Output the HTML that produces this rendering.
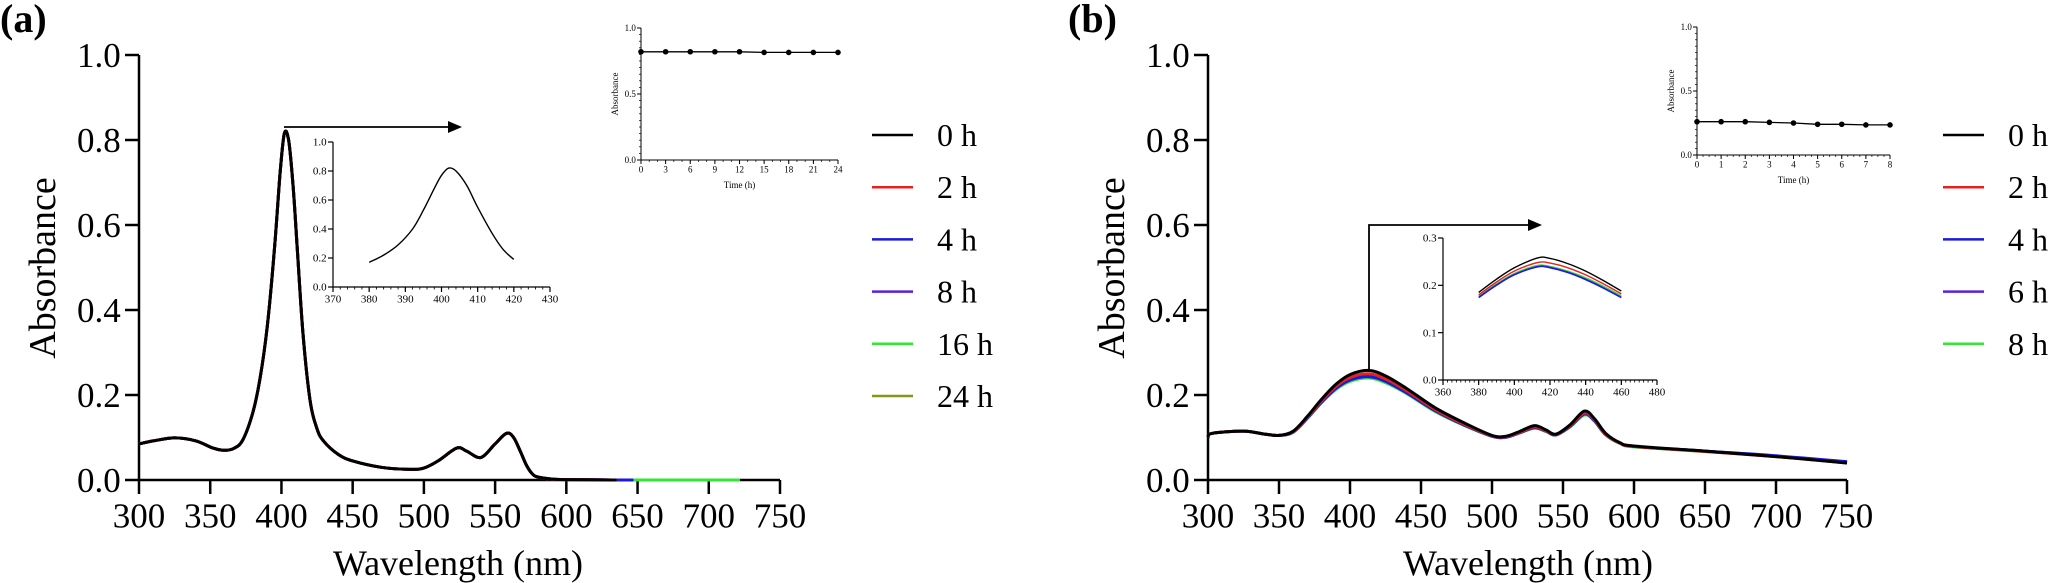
<!DOCTYPE html>
<html><head><meta charset="utf-8"><style>
html,body{margin:0;padding:0;background:#fff}
svg{display:block}
text{font-family:"Liberation Serif","DejaVu Serif",serif;fill:#000}
</style></head><body>
<svg id="fig" width="2048" height="583" viewBox="0 0 2048 583" xmlns="http://www.w3.org/2000/svg" font-family="Liberation Serif, DejaVu Serif, serif"></svg>
<script>
// ---------- Panel (a) data ----------
const wlA = [300,310,325,340,352,360,367,373,380,385,390,395,399,402,405,408,411,415,420,425,430,440,450,470,490,500,510,523,530,540,550,558,563,568,572,576,580,590,600,632];
const absA = [0.085,0.092,0.099,0.092,0.075,0.07,0.075,0.095,0.16,0.24,0.36,0.54,0.72,0.815,0.80,0.70,0.55,0.35,0.19,0.12,0.09,0.06,0.045,0.03,0.025,0.028,0.045,0.075,0.068,0.053,0.085,0.11,0.1,0.065,0.035,0.015,0.007,0.002,0.001,0];
const seriesA = ["0 h","2 h","4 h","8 h","16 h","24 h"];
const colorsA = ["#000000","#e8201f","#1a1adf","#5b1fe0","#33e633","#7f9a1a"];
const tailEndA = [632,632,647,647,722,704];
const insetWlA = [380,384,388,392,395,398,400,402,404,407,410,414,417,420];
const insetAbsA = [0.17,0.22,0.29,0.40,0.53,0.68,0.77,0.82,0.80,0.70,0.55,0.37,0.26,0.19];
const timeA = [0,3,6,9,12,15,18,21,24];
const timeAbsA = [0.82,0.82,0.82,0.82,0.82,0.815,0.815,0.815,0.815];
// ---------- Panel (b) data ----------
const wlB = [300,303,325,340,350,360,370,380,390,400,413,425,440,460,480,500,510,520,530,538,545,555,565,572,580,590,600,650,700,750];
const absB0 = [0.10,0.11,0.115,0.108,0.105,0.115,0.15,0.19,0.225,0.248,0.258,0.245,0.215,0.17,0.135,0.105,0.103,0.115,0.128,0.118,0.108,0.13,0.162,0.145,0.11,0.088,0.08,0.068,0.055,0.04];
const absB2 = [0.10,0.11,0.115,0.108,0.105,0.114,0.148,0.186,0.22,0.241,0.25,0.238,0.21,0.166,0.132,0.104,0.102,0.113,0.125,0.116,0.107,0.128,0.158,0.142,0.108,0.087,0.079,0.067,0.055,0.04];
const absB4 = [0.10,0.11,0.115,0.108,0.105,0.113,0.146,0.183,0.215,0.235,0.243,0.232,0.205,0.163,0.13,0.103,0.101,0.112,0.123,0.115,0.106,0.126,0.155,0.14,0.107,0.087,0.079,0.068,0.057,0.043];
const absB6 = [0.10,0.11,0.115,0.108,0.105,0.113,0.146,0.184,0.217,0.237,0.245,0.234,0.207,0.164,0.131,0.103,0.101,0.112,0.124,0.115,0.106,0.127,0.156,0.141,0.107,0.087,0.079,0.068,0.056,0.042];
const absB8 = [0.10,0.11,0.115,0.108,0.105,0.112,0.145,0.182,0.213,0.232,0.24,0.229,0.203,0.161,0.129,0.103,0.101,0.111,0.122,0.114,0.106,0.125,0.153,0.139,0.106,0.086,0.078,0.067,0.056,0.042];
const seriesB = ["0 h","2 h","4 h","6 h","8 h"];
const colorsB = ["#000000","#e8201f","#1a1adf","#5b1fe0","#33e633"];
const insetWlB = [380,390,400,413,420,430,440,450,460];
const insetB0 = [0.185,0.213,0.237,0.258,0.257,0.246,0.230,0.210,0.188];
const insetB2 = [0.180,0.207,0.230,0.248,0.247,0.237,0.222,0.203,0.182];
const insetB4 = [0.174,0.200,0.222,0.239,0.237,0.227,0.212,0.194,0.174];
const insetB6 = [0.175,0.201,0.223,0.240,0.238,0.228,0.213,0.195,0.175];
const insetB8 = [0.177,0.203,0.225,0.242,0.240,0.230,0.216,0.198,0.178];
const timeB = [0,1,2,3,4,5,6,7,8];
const timeAbsB = [0.26,0.26,0.26,0.255,0.25,0.24,0.24,0.235,0.235];

const NS="http://www.w3.org/2000/svg";
const svg=document.getElementById('fig');
function el(tag,attrs,parent,txt){const e=document.createElementNS(NS,tag);for(const k in attrs)e.setAttribute(k,attrs[k]);if(txt!==undefined)e.textContent=txt;(parent||svg).appendChild(e);return e;}
function lin(d0,d1,r0,r1){return v=>r0+(v-d0)*(r1-r0)/(d1-d0);}
function pathD(xs,ys,sx,sy){return xs.map((x,i)=>(i?'L':'M')+sx(x).toFixed(1)+','+sy(ys[i]).toFixed(1)).join(' ');}
function smoothD(xs,ys,sx,sy){
  const P=xs.map((x,i)=>[sx(x),sy(ys[i])]);
  let d='M'+P[0][0].toFixed(1)+','+P[0][1].toFixed(1);
  for(let i=0;i<P.length-1;i++){
    const p0=P[i-1]||P[i],p1=P[i],p2=P[i+1],p3=P[i+2]||P[i+1];
    const c1x=p1[0]+(p2[0]-p0[0])/6,c1y=p1[1]+(p2[1]-p0[1])/6;
    const c2x=p2[0]-(p3[0]-p1[0])/6,c2y=p2[1]-(p3[1]-p1[1])/6;
    d+=` C${c1x.toFixed(1)},${c1y.toFixed(1)} ${c2x.toFixed(1)},${c2y.toFixed(1)} ${p2[0].toFixed(1)},${p2[1].toFixed(1)}`;
  }
  return d;
}

function axes(g,o){
  const sx=lin(o.xd0,o.xd1,o.x0,o.x1), sy=lin(o.yd0,o.yd1,o.y0,o.y1);
  let a=el('line',{x1:o.x0,y1:o.y0,x2:o.x1,y2:o.y0,stroke:'#000','stroke-width':o.sw},g);
  
  
  a=el('line',{x1:o.x0,y1:o.y0,x2:o.x0,y2:o.y1,stroke:'#000','stroke-width':o.sw},g);
  
  
  if(o.minorX){for(let v=o.xd0;v<=o.xd1+1e-9;v+=o.minorX){el('line',{x1:sx(v),y1:o.y0,x2:sx(v),y2:o.y0+o.tickLen*0.5,stroke:'#000','stroke-width':o.sw*0.7},g);}}
  if(o.minorY){for(let v=o.yd0;v<=o.yd1+1e-9;v+=o.minorY){el('line',{x1:o.x0,y1:sy(v),x2:o.x0-o.tickLen*0.5,y2:sy(v),stroke:'#000','stroke-width':o.sw*0.7},g);}}
  o.xticks.forEach(v=>{
    el('line',{x1:sx(v),y1:o.y0,x2:sx(v),y2:o.y0+o.tickLen,stroke:'#000','stroke-width':o.sw},g);
    const t=el('text',{x:sx(v),y:o.y0+o.tickLen+o.fs*0.95,'font-size':o.fs,'text-anchor':'middle'},g,o.fmtX(v));
    
    
  });
  o.yticks.forEach(v=>{
    el('line',{x1:o.x0,y1:sy(v),x2:o.x0-o.tickLen,y2:sy(v),stroke:'#000','stroke-width':o.sw},g);
    const t=el('text',{x:o.x0-o.tickLen-o.fs*0.12,y:sy(v)+o.fs*0.34,'font-size':o.fs,'text-anchor':'end'},g,o.fmtY(v));
    
    
  });
  return {sx,sy};
}
const f1=v=>v.toFixed(1), f0=v=>String(v);
const ticks=(a,b,s)=>{const r=[];for(let v=a;v<=b+1e-9;v+=s)r.push(Math.round(v*1000)/1000);return r;};

function panelTitle(x,y,txt,name){const t=el('text',{x:x,y:y,'font-size':40,'font-weight':'bold'},svg,txt);}
function mainTitles(cx,yLabelX,name){
  let t=el('text',{x:cx,y:575,'font-size':36,'text-anchor':'middle'},svg,'Wavelength (nm)');
  
  t=el('text',{x:0,y:0,'font-size':38,'text-anchor':'middle',transform:`translate(${yLabelX},268) rotate(-90)`},svg,'Absorbance');
  
}
function legend(g,labels,colors,lx,tx){
  labels.forEach((l,i)=>{
    const y=135+i*52.2;
    const e=el('g',{},g);
    
    
    el('line',{x1:lx,y1:y,x2:lx+41,y2:y,stroke:colors[i],'stroke-width':2.5},e);
    el('text',{x:tx,y:y+11,'font-size':32},e,l);
  });
}
function timeInset(g,o,xs,ys,name){
  const ax=axes(g,o);
  const ln=el('path',{d:pathD(xs,ys,ax.sx,ax.sy),fill:'none',stroke:'#000','stroke-width':1.3},g);
  
  xs.forEach((x,i)=>{const c=el('circle',{cx:ax.sx(x),cy:ax.sy(ys[i]),r:2.8,fill:'#000'},g);});
  let t=el('text',{x:(o.x0+o.x1)/2,y:o.y0+28,'font-size':9,'text-anchor':'middle'},g,'Time (h)');
  
  t=el('text',{x:0,y:0,'font-size':9,'text-anchor':'middle',transform:`translate(${o.x0-23},${(o.y0+o.y1)/2}) rotate(-90)`},g,'Absorbance');
  
}
function arrowHead(g,x,y){el('path',{d:`M${x},${y} L${x-14},${y-6} L${x-14},${y+6} Z`,fill:'#000'},g);}

// ===== Panel (a) =====
panelTitle(0,32,'(a)','panel-a-label');
const gA=el('g',{});
const axA=axes(gA,{x0:139,x1:780,y0:480,y1:55,xd0:300,xd1:750,yd0:0,yd1:1,xticks:ticks(300,750,50),yticks:ticks(0,1,0.2),fmtX:f0,fmtY:f1,fs:35,tickLen:14,sw:2.5});
mainTitles(458,55,'panel-a');
for(let s=seriesA.length-1;s>=0;s--){
  const xs=wlA.slice(), ys=absA.slice();
  xs.push(tailEndA[s]); ys.push(0);
  const p=el('path',{d:smoothD(xs,ys,axA.sx,axA.sy),fill:'none',stroke:colorsA[s],'stroke-width':3,'stroke-linejoin':'round'},gA);
  
  
}
const arA=el('g',{});
el('line',{x1:284,y1:127,x2:450,y2:127,stroke:'#000','stroke-width':1.8},arA);arrowHead(arA,462,127);
const gA1=el('g',{});
const axA1=axes(gA1,{x0:333,x1:550,y0:287,y1:142,xd0:370,xd1:430,yd0:0,yd1:1,xticks:ticks(370,430,10),yticks:ticks(0,1,0.2),fmtX:f0,fmtY:f1,fs:11,tickLen:5,minorX:2,sw:1.2});
let pa=el('path',{d:smoothD(insetWlA,insetAbsA,axA1.sx,axA1.sy),fill:'none',stroke:'#000','stroke-width':1.4},gA1);

const gA2=el('g',{});
timeInset(gA2,{x0:641,x1:838,y0:160,y1:28,xd0:0,xd1:24,yd0:0,yd1:1,xticks:timeA,yticks:[0,0.5,1],fmtX:f0,fmtY:f1,fs:9,tickLen:4,minorX:1,minorY:0.05,sw:1},timeA,timeAbsA,'time-a');
const lgA=el('g',{});
legend(lgA,seriesA,colorsA,872,937);

// ===== Panel (b) =====
panelTitle(1068,32,'(b)','panel-b-label');
const gB=el('g',{});
const axB=axes(gB,{x0:1208,x1:1847,y0:480,y1:55,xd0:300,xd1:750,yd0:0,yd1:1,xticks:ticks(300,750,50),yticks:ticks(0,1,0.2),fmtX:f0,fmtY:f1,fs:35,tickLen:14,sw:2.5});
mainTitles(1528,1124,'panel-b');
const absBAll=[absB0,absB2,absB4,absB6,absB8];
for(let s=seriesB.length-1;s>=0;s--){
  const p=el('path',{d:smoothD(wlB,absBAll[s],axB.sx,axB.sy),fill:'none',stroke:colorsB[s],'stroke-width':3,'stroke-linejoin':'round'},gB);
  
  
}
const arB=el('g',{});
el('path',{d:'M1369,372 L1369,225 L1530,225',fill:'none',stroke:'#000','stroke-width':1.8},arB);arrowHead(arB,1542,225);
const gB1=el('g',{});
const axB1=axes(gB1,{x0:1443,x1:1657,y0:380,y1:238,xd0:360,xd1:480,yd0:0,yd1:0.3,xticks:ticks(360,480,20),yticks:ticks(0,0.3,0.1),fmtX:f0,fmtY:f1,fs:11,tickLen:5,minorX:2.5,sw:1.2});
const insetBAll=[insetB0,insetB2,insetB4,insetB6,insetB8];
for(let s=seriesB.length-1;s>=0;s--){
  const p=el('path',{d:smoothD(insetWlB,insetBAll[s],axB1.sx,axB1.sy),fill:'none',stroke:colorsB[s],'stroke-width':1.4},gB1);
  
  
}
const gB2=el('g',{});
timeInset(gB2,{x0:1697,x1:1890,y0:155,y1:27,xd0:0,xd1:8,yd0:0,yd1:1,xticks:timeB,yticks:[0,0.5,1],fmtX:f0,fmtY:f1,fs:9,tickLen:4,minorX:0.25,minorY:0.05,sw:1},timeB,timeAbsB,'time-b');
const lgB=el('g',{});
legend(lgB,seriesB,colorsB,1943,2008);
</script>
</body></html>
